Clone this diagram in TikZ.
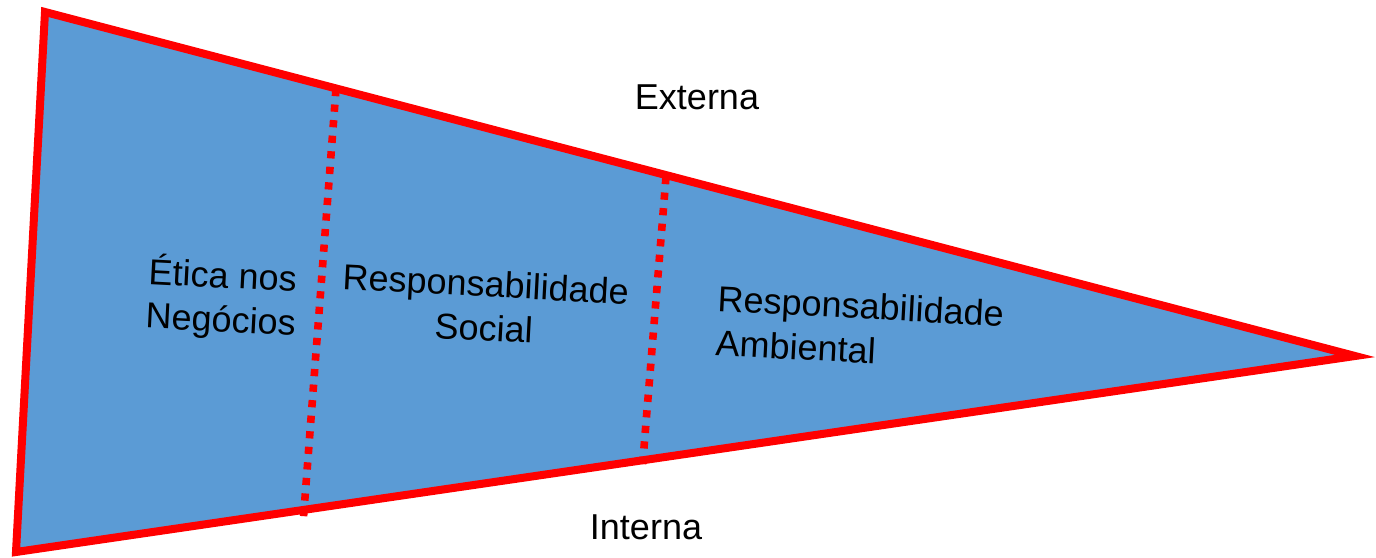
\documentclass[tikz,border=0pt]{standalone}
\usepackage{fontspec}
\setmainfont{Liberation Sans}
\definecolor{wedgeblue}{RGB}{91,155,213}
\tikzset{
  border/.style={draw=red,line width=4pt,line join=miter},
  divider/.style={draw=red,line width=3.8pt,dash pattern=on 3.6pt off 4.2pt},
  label/.style={font=\fontsize{18}{22}\selectfont,align=center,rotate=-3},
  side/.style={font=\fontsize{18}{21}\selectfont}
}
\begin{document}
\begin{tikzpicture}[x=0.5pt,y=-0.5pt]
    \useasboundingbox (0,0) rectangle (1376,557);
    \coordinate (tl) at (45,12);
    \coordinate (bl) at (16,552);
    \coordinate (tip) at (1355,356);

    \fill[color=wedgeblue] (tl) -- (tip) -- (bl) -- cycle;

    \coordinate (d1top) at (336,89);
    \coordinate (d1bot) at (303,524);
    \coordinate (d2top) at (666,177);
    \coordinate (d2bot) at (642,472);
    \draw[divider] (d1top) -- (d1bot);
    \draw[divider] (d2top) -- (d2bot);

    \draw[border] (tl) -- (tip) -- (bl) -- cycle;

    \node[label] (etica) at (222,298) {Ética nos\\Negócios};
    \node[label] (social) at (485,306) {Responsabilidade\\Social};
    \node[label,align=left] (ambiental) at (860,328) {Responsabilidade\\Ambiental};

    \node[side] (externa) at (697,97) {Externa};
    \node[side] (interna) at (646,527) {Interna};
\end{tikzpicture}
\end{document}
